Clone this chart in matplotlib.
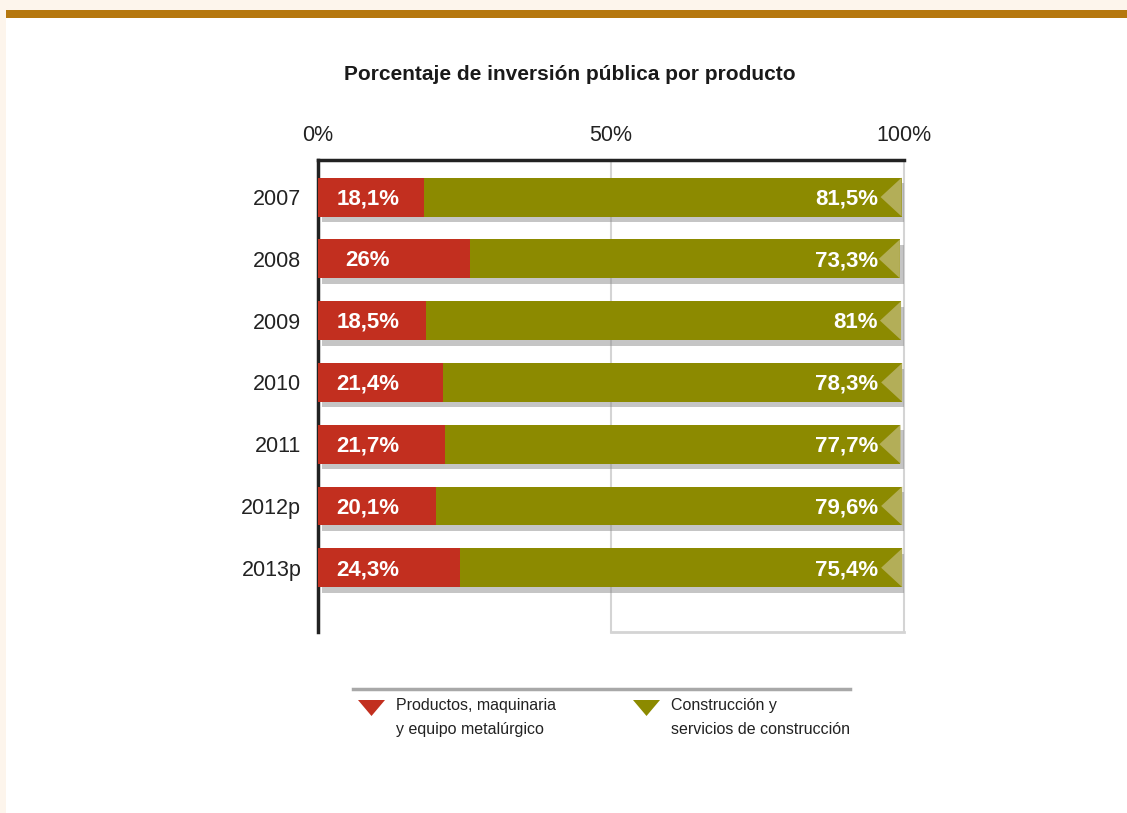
import matplotlib
matplotlib.use("Agg")
import matplotlib.pyplot as plt
import matplotlib.patheffects as pe
from matplotlib.patches import Rectangle, Polygon
from matplotlib.lines import Line2D

years = ["2007", "2008", "2009", "2010", "2011", "2012p", "2013p"]
productos = [18.1, 26, 18.5, 21.4, 21.7, 20.1, 24.3]
construccion = [81.5, 73.3, 81, 78.3, 77.7, 79.6, 75.4]
prod_labels = ["18,1%", "26%", "18,5%", "21,4%", "21,7%", "20,1%", "24,3%"]
cons_labels = ["81,5%", "73,3%", "81%", "78,3%", "77,7%", "79,6%", "75,4%"]
ticks = [0, 50, 100]
tick_labels = ["0%", "50%", "100%"]

RED = "#c22f1f"
OLIVE = "#8c8a00"
ARROW = "#b3ae58"
BROWN = "#b5770e"
CREAM = "#fdf5ec"

plt.rcParams["font.family"] = ["Liberation Sans", "DejaVu Sans"]

W, H = 1127, 813
fig = plt.figure(figsize=(W / 100, H / 100), dpi=100, facecolor=CREAM)

# white page and brown header band
fig.add_artist(Rectangle((6 / W, 0), 1, 1 - 10 / H, transform=fig.transFigure,
                         facecolor="white", edgecolor="none", zorder=0))
fig.add_artist(Rectangle((6 / W, 1 - 18 / H), 1, 8 / H, transform=fig.transFigure,
                         facecolor=BROWN, edgecolor="none", zorder=1))

fig.text(570 / W, 1 - 75 / H, "Porcentaje de inversión pública por producto",
         ha="center", va="center", fontsize=15, fontweight="bold", color="#1a1a1a")

ax = fig.add_axes([318 / W, 1 - 632 / H, 586 / W, 472 / H])
ax.set_facecolor("none")
ax.set_xlim(0, 100)
ax.set_ylim(7.04, -0.6)

ypos = list(range(len(years)))
bh = 0.63
totals = [p + c for p, c in zip(productos, construccion)]

# drop shadow under each whole bar (shadow only, the bar itself is not drawn)
shade = ax.barh(ypos, totals, height=bh, color="0.5", zorder=2)
for b in shade:
    b.set_path_effects([pe.SimplePatchShadow(offset=(3, -4), shadow_rgbFace="0.55", alpha=0.5)])

ax.barh(ypos, construccion, left=productos, height=bh, color=OLIVE, zorder=3)
ax.barh(ypos, productos, height=bh, color=RED, zorder=4)

for y, p, c, pl, cl in zip(ypos, productos, construccion, prod_labels, cons_labels):
    end = p + c
    ax.add_patch(Polygon([[end, y - bh / 2], [end - 3.6, y], [end, y + bh / 2]],
                         closed=True, facecolor=ARROW, edgecolor="none", zorder=5))
    ax.text(8.5, y + 0.03, pl, ha="center", va="center", color="white",
            fontsize=16, fontweight="bold", zorder=6)
    ax.text(95.6, y + 0.03, cl, ha="right", va="center", color="white",
            fontsize=16, fontweight="bold", zorder=6)

# light gray frame for the right half
ax.plot([50, 50], [-0.6, 7.04], color="#d4d4d4", lw=1.5, zorder=1, clip_on=False)
ax.plot([100, 100], [-0.6, 7.04], color="#d4d4d4", lw=1.5, zorder=1, clip_on=False)
ax.plot([50, 100], [7.04, 7.04], color="#d4d4d4", lw=2, zorder=1, clip_on=False)

for side in ["right", "bottom"]:
    ax.spines[side].set_visible(False)
ax.spines["top"].set_linewidth(2.5)
ax.spines["top"].set_color("#222222")
ax.spines["left"].set_linewidth(2.5)
ax.spines["left"].set_color("#222222")

ax.xaxis.tick_top()
ax.set_xticks(ticks)
ax.set_xticklabels(tick_labels)
ax.set_yticks(ypos)
ax.set_yticklabels(years)
ax.tick_params(axis="x", length=0, pad=10, labelsize=15.5, colors="#222222")
ax.tick_params(axis="y", length=0, pad=12, labelsize=15.5, colors="#222222")

# legend
fig.add_artist(Line2D([353 / W, 850 / W], [1 - 689 / H, 1 - 689 / H],
                      transform=fig.transFigure, color="#a8a8a8", lw=2.5))
legend_items = [
    (358, RED, "Productos, maquinaria\ny equipo metalúrgico"),
    (633, OLIVE, "Construcción y\nservicios de construcción"),
]
for x0, col, txt in legend_items:
    fig.add_artist(Polygon([[x0 / W, 1 - 700 / H], [(x0 + 27) / W, 1 - 700 / H],
                            [(x0 + 13.5) / W, 1 - 716 / H]], closed=True,
                           transform=fig.transFigure, facecolor=col, edgecolor="none"))
    fig.text((x0 + 38) / W, 1 - 698 / H, txt, ha="left", va="top", fontsize=11.5,
             color="#222222", linespacing=1.75)

fig.savefig("out.png", dpi=100, facecolor=CREAM)
